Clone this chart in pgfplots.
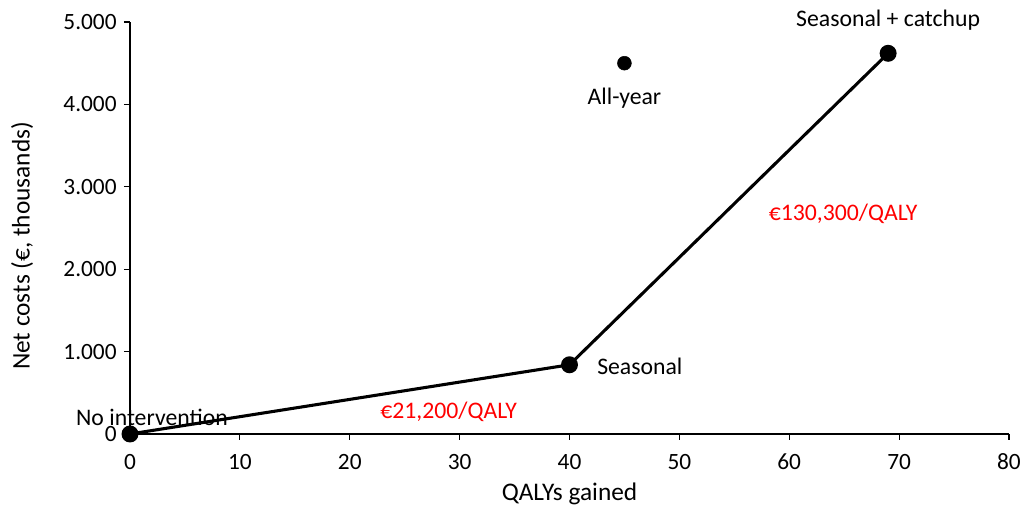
\documentclass[border=0pt]{standalone}
\usepackage{pgfplots}
\pgfplotsset{compat=1.18}
\usepackage{fontspec}
\setmainfont{Carlito}
\begin{document}
\begin{tikzpicture}[font=\fontsize{17.8}{21}\selectfont]
\begin{axis}[
  scale only axis,
  width=659.25pt, height=309pt,
  xmin=0, xmax=80, ymin=0, ymax=5000,
  xtick={0,10,...,80},
  ytick={0,1000,2000,3000,4000,5000},
  yticklabels={0,1.000,2.000,3.000,4.000,5.000},
  xticklabels={0,10,20,30,40,50,60,70,80},
  axis x line*=bottom, axis y line*=left,
  axis line style={line width=0.9pt, -},
  tick align=outside, major tick length=4.5pt,
  tick style={line width=0.9pt, black},
  ticklabel style={font=\fontsize{17.5}{21}\selectfont},
  xticklabel style={yshift=-7pt},
  yticklabel style={xshift=-2pt},
  xlabel={QALYs gained},
  ylabel={Net costs (€, thousands)},
  label style={font=\fontsize{19}{23}\selectfont},
  xlabel style={at={([yshift=-45pt]axis description cs:0.5,0)}, anchor=center},
  ylabel style={at={([xshift=-81pt,yshift=-13.5pt]axis description cs:0,0.5)}, anchor=center},
  clip=false,
]
\addplot[black, line width=2.3pt, mark=*, mark size=5.2pt] coordinates {(0,0) (40,840) (69,4620)};
\addplot[only marks, black, mark=*, mark size=5.2pt] coordinates {(45,4500)};
\node at (axis cs:2.0,206) {No intervention};
\node[anchor=west] at (axis cs:42.1,825) {Seasonal};
\node at (axis cs:69,5024) {Seasonal + catchup};
\node at (axis cs:45,4078) {All-year};
\node[red] at (axis cs:29,267) {€21,200/QALY};
\node[red] at (axis cs:64.9,2670) {€130,300/QALY};
\end{axis}
\pgfresetboundingbox
\useasboundingbox (-97.5pt,-57pt) rectangle (671.25pt,325.5pt);
\end{tikzpicture}
\end{document}
